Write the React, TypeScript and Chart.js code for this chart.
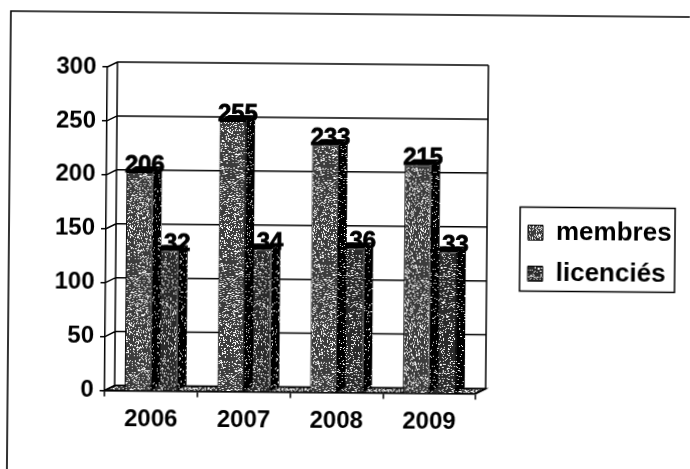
import { useEffect, useRef } from "react";
import { Chart, registerables } from "chart.js";

Chart.register(...registerables);

const categories = ["2006", "2007", "2008", "2009"];
const membres = [206, 255, 233, 215];
const licencies = [132, 134, 136, 133];
const seriesNames = ["membres", "licenciés"];
const axisTicks = [0, 50, 100, 150, 200, 250, 300];

const FONT = "'Liberation Sans', Arial, sans-serif";
const DX = 10;
const DY = 5;
const BAR_DX = 9;
const BAR_DY = 6;

function speckle(whiteShare: number, dark: string, size = 97) {
  const c = document.createElement("canvas");
  c.width = size;
  c.height = size;
  const g = c.getContext("2d")!;
  g.fillStyle = dark;
  g.fillRect(0, 0, size, size);
  g.fillStyle = "#ffffff";
  let s = 12345;
  for (let y = 0; y < size; y++) {
    for (let x = 0; x < size; x++) {
      s = (s * 1103515245 + 12345) & 0x7fffffff;
      if (((s >> 12) % 1000) / 1000 < whiteShare) g.fillRect(x, y, 1, 1);
    }
  }
  return g.createPattern(c, "repeat")!;
}

export default function App() {
  const ref = useRef<HTMLCanvasElement>(null);
  useEffect(() => {
    const canvas = ref.current!;
    const fill1 = speckle(0.22, "#3c3c3c");
    const fill2 = speckle(0.17, "#2a2a2a");
    const side = speckle(0.08, "#000000");
    const floor = speckle(0.4, "#444444");

    const depthAndLabels = {
      id: "depthAndLabels",
      beforeLayout(chart: any) {
        const l = chart.legend;
        if (l && !l.__patched) {
          const fit = l.fit.bind(l);
          l.fit = () => {
            fit();
            l.width = 0;
          };
          l.__patched = true;
        }
      },
      afterLayout(chart: any) {
        const l = chart.legend;
        l.left = 515;
        l.right = 675;
        l.top = 200;
        l.bottom = 440;
      },
      beforeDraw(chart: any) {
        const { ctx } = chart;
        ctx.save();
        ctx.strokeStyle = "#000";
        ctx.lineWidth = 1.6;
        ctx.beginPath();
        ctx.moveTo(690, 11);
        ctx.lineTo(11, 11);
        ctx.lineTo(11, 469);
        ctx.stroke();
        ctx.lineWidth = 1.5;
        ctx.strokeRect(522, 202.5, 155, 84);
        ctx.restore();
      },
      beforeDatasetsDraw(chart: any) {
        const { ctx, chartArea: a, scales } = chart;
        const y = scales.y;
        ctx.save();
        ctx.fillStyle = floor;
        ctx.beginPath();
        ctx.moveTo(a.left, a.bottom);
        ctx.lineTo(a.right, a.bottom);
        ctx.lineTo(a.right + DX, a.bottom - DY);
        ctx.lineTo(a.left + DX, a.bottom - DY);
        ctx.closePath();
        ctx.fill();
        ctx.strokeStyle = "#000";
        ctx.lineWidth = 1.5;
        ctx.stroke();
        ctx.beginPath();
        axisTicks.forEach((t) => {
          const py = y.getPixelForValue(t);
          ctx.moveTo(a.left, py);
          ctx.lineTo(a.left + DX, py - DY);
          ctx.lineTo(a.right + DX, py - DY);
        });
        ctx.moveTo(a.left + DX, a.top - DY);
        ctx.lineTo(a.left + DX, a.bottom - DY);
        ctx.moveTo(a.right + DX, a.top - DY);
        ctx.lineTo(a.right + DX, a.bottom - DY);
        ctx.lineTo(a.right, a.bottom);
        ctx.stroke();
        ctx.restore();
      },
      beforeDatasetDraw(chart: any, args: any) {
        const { ctx } = chart;
        const meta = chart.getDatasetMeta(args.index);
        ctx.save();
        meta.data.forEach((el: any) => {
          const x1 = el.x + el.width / 2;
          const x0 = el.x - el.width / 2;
          ctx.fillStyle = side;
          ctx.beginPath();
          ctx.moveTo(x1, el.y);
          ctx.lineTo(x1 + BAR_DX, el.y - BAR_DY);
          ctx.lineTo(x1 + BAR_DX, el.base - BAR_DY);
          ctx.lineTo(x1, el.base);
          ctx.closePath();
          ctx.fill();
          ctx.fillStyle = "#000";
          ctx.beginPath();
          ctx.moveTo(x0, el.y);
          ctx.lineTo(x0 + BAR_DX, el.y - BAR_DY);
          ctx.lineTo(x1 + BAR_DX, el.y - BAR_DY);
          ctx.lineTo(x1, el.y);
          ctx.closePath();
          ctx.fill();
        });
        ctx.restore();
      },
      afterDatasetDraw(chart: any, args: any) {
        const { ctx } = chart;
        const meta = chart.getDatasetMeta(args.index);
        const values = chart.data.datasets[args.index].data;
        ctx.save();
        ctx.font = `bold 24px ${FONT}`;
        ctx.fillStyle = "#000";
        ctx.strokeStyle = "#000";
        ctx.lineWidth = 0.8;
        ctx.textAlign = "center";
        ctx.textBaseline = "alphabetic";
        meta.data.forEach((el: any, i: number) => {
          ctx.fillText(String(values[i]), el.x + 5, el.y);
          ctx.strokeText(String(values[i]), el.x + 5, el.y);
        });
        ctx.restore();
      },
    };

    const chart = new Chart(canvas, {
      type: "bar",
      data: {
        labels: categories,
        datasets: [
          { label: seriesNames[0], data: membres, backgroundColor: fill1, borderColor: "#000", borderWidth: 1, yAxisID: "yBars" },
          { label: seriesNames[1], data: licencies, backgroundColor: fill2, borderColor: "#000", borderWidth: 1, yAxisID: "yBars" },
        ],
      },
      options: {
        animation: false,
        responsive: false,
        devicePixelRatio: 1,
        categoryPercentage: 0.57,
        barPercentage: 1,
        layout: { padding: { top: 66, right: 211, left: 0, bottom: 0 } },
        plugins: {
          tooltip: { enabled: false },
          title: { display: false },
          legend: {
            position: "right",
            align: "start",
            labels: {
              boxWidth: 15,
              boxHeight: 15,
              padding: 15,
              color: "#000",
              font: { family: FONT, size: 26, weight: "bold" },
            },
          },
        },
        scales: {
          x: {
            offset: true,
            grid: { drawOnChartArea: false, drawTicks: true, tickLength: 6, color: "#000", lineWidth: 1.5 },
            border: { color: "#000", width: 1.5 },
            ticks: { color: "#000", padding: 8, maxRotation: 0, font: { family: FONT, size: 24, weight: "bold" } },
            afterFit: (s: any) => {
              s.height = 79.5;
            },
          },
          y: {
            min: 0,
            max: 300,
            grid: { drawOnChartArea: false, drawTicks: true, tickLength: 5, color: "#000", lineWidth: 1.5 },
            border: { color: "#000", width: 1.5 },
            ticks: { stepSize: 50, color: "#000", padding: 6, font: { family: FONT, size: 24, weight: "bold" } },
            afterFit: (s: any) => {
              s.width = 108;
            },
          },
          yBars: { display: false, min: 0, max: 305 },
        },
      } as any,
      plugins: [depthAndLabels],
    });
    return () => chart.destroy();
  }, []);

  return (
    <div style={{ position: "fixed", left: 0, top: 0, width: 690, height: 469, overflow: "hidden", background: "#fff" }}>
      <canvas
        ref={ref}
        width={690}
        height={469}
        style={{ display: "block", width: 690, height: 469, transformOrigin: "0 0", transform: "rotate(0.5deg)" }}
      />
    </div>
  );
}
